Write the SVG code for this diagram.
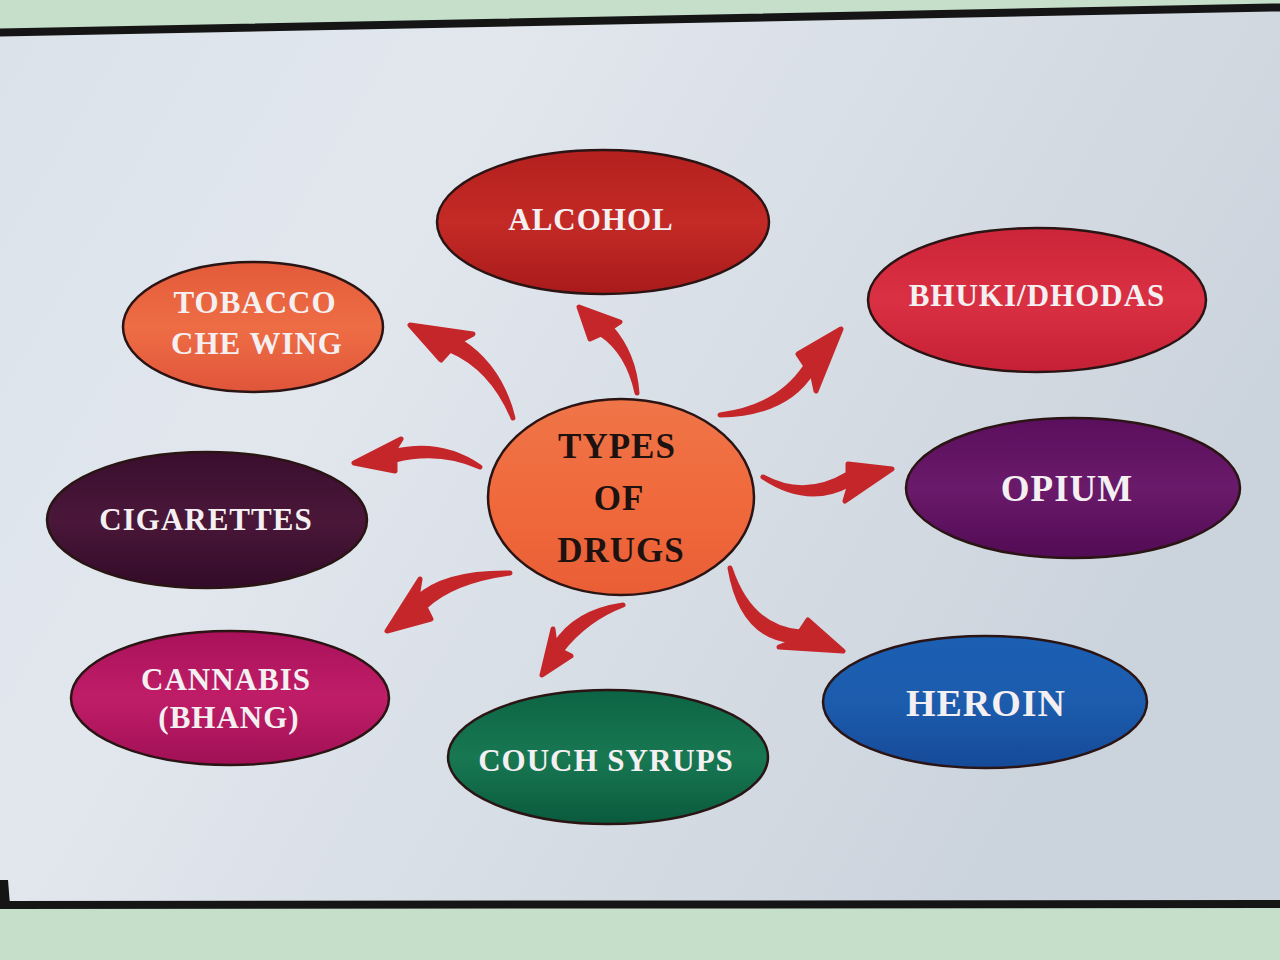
<svg xmlns="http://www.w3.org/2000/svg" width="1280" height="960" viewBox="0 0 1280 960">
<defs>
<style>
.lbl{font-family:"Liberation Serif","Times New Roman",serif;font-weight:bold;fill:#f4f0f2;text-anchor:middle;letter-spacing:1px}
.ctr{font-family:"Liberation Serif","Times New Roman",serif;font-weight:bold;fill:#1e1210;text-anchor:middle;letter-spacing:1px}
.node{stroke:#2a1414;stroke-width:2.5}
.arr{fill:#c4262a;stroke:#c4262a;stroke-width:5;stroke-linejoin:round}
</style>
<linearGradient id="board" x1="0" y1="0" x2="1" y2="0.4">
<stop offset="0" stop-color="#dae2ea"/>
<stop offset="0.35" stop-color="#e2e7ee"/>
<stop offset="1" stop-color="#cbd3dc"/>
</linearGradient>
<linearGradient id="gAlc" x1="0" y1="0" x2="0" y2="1"><stop offset="0" stop-color="#b3201e"/><stop offset="0.5" stop-color="#c42a26"/><stop offset="1" stop-color="#a81b1b"/></linearGradient>
<linearGradient id="gTob" x1="0" y1="0" x2="0" y2="1"><stop offset="0" stop-color="#e35a39"/><stop offset="0.5" stop-color="#ee6d45"/><stop offset="1" stop-color="#e0553a"/></linearGradient>
<linearGradient id="gBhu" x1="0" y1="0" x2="0" y2="1"><stop offset="0" stop-color="#cc2438"/><stop offset="0.5" stop-color="#da3043"/><stop offset="1" stop-color="#c52035"/></linearGradient>
<linearGradient id="gCig" x1="0" y1="0" x2="0" y2="1"><stop offset="0" stop-color="#3a0e2e"/><stop offset="0.5" stop-color="#4a1739"/><stop offset="1" stop-color="#330b29"/></linearGradient>
<linearGradient id="gCtr" x1="0" y1="0" x2="0" y2="1"><stop offset="0" stop-color="#ef7548"/><stop offset="0.5" stop-color="#f06a3d"/><stop offset="1" stop-color="#ea5e36"/></linearGradient>
<linearGradient id="gOpi" x1="0" y1="0" x2="0" y2="1"><stop offset="0" stop-color="#5a0f5d"/><stop offset="0.5" stop-color="#6a1a6a"/><stop offset="1" stop-color="#520b55"/></linearGradient>
<linearGradient id="gCan" x1="0" y1="0" x2="0" y2="1"><stop offset="0" stop-color="#a8125a"/><stop offset="0.5" stop-color="#c01d68"/><stop offset="1" stop-color="#a01055"/></linearGradient>
<linearGradient id="gCou" x1="0" y1="0" x2="0" y2="1"><stop offset="0" stop-color="#0c6444"/><stop offset="0.5" stop-color="#187852"/><stop offset="1" stop-color="#0a5a3d"/></linearGradient>
<linearGradient id="gHer" x1="0" y1="0" x2="0" y2="1"><stop offset="0" stop-color="#1b5fb3"/><stop offset="0.5" stop-color="#1d5cad"/><stop offset="1" stop-color="#154a98"/></linearGradient>
</defs>
<rect x="0" y="0" width="1280" height="960" fill="#c6dfca"/>
<polygon points="-20,33 1300,7 1300,904 -20,905" fill="url(#board)" stroke="#151515" stroke-width="8"/>
<polygon points="0,880 8,880 10,905 0,908" fill="#151515"/>

<g id="connectors">
<path class="arr" d="M637,393 Q628,352 601,334 L590,339 L579,307 L620,322 L611,328 Q634,354 637,393 Z"/>
<path class="arr" d="M513,418 Q492,368 450,350 L441,360 L410,325 L473,334 L460,341 Q500,366 513,418 Z"/>
<path class="arr" d="M480,467 Q440,440 393,452 L401,439 L354,463 L395,471 L395,460 Q440,449 480,467 Z"/>
<path class="arr" d="M720,415 Q778,408 806,366 L798,354 L841,329 L816,391 L812,372 Q786,414 720,415 Z"/>
<path class="arr" d="M763,477 Q805,500 848,474 L848,464 L892,469 L845,501 L850,484 Q808,507 763,477 Z"/>
<path class="arr" d="M730,568 Q750,628 800,632 L808,620 L843,651 L779,647 L795,641 Q742,638 730,568 Z"/>
<path class="arr" d="M510,573 Q445,572 417,598 L420,579 L387,631 L431,619 L425,607 Q452,581 510,573 Z"/>
<path class="arr" d="M623,605 Q575,612 555,645 L553,629 L542,675 L571,656 L561,651 Q586,619 623,605 Z"/>
</g>

<g id="n-alcohol">
<ellipse class="node" cx="603" cy="222" rx="166" ry="72" fill="url(#gAlc)"/>
<text class="lbl" x="591" y="230" font-size="31">ALCOHOL</text>
</g>
<g id="n-tobacco">
<ellipse class="node" cx="253" cy="327" rx="130" ry="65" fill="url(#gTob)"/>
<text class="lbl" x="255" y="313" font-size="31">TOBACCO</text>
<text class="lbl" x="257" y="354" font-size="31">CHE WING</text>
</g>
<g id="n-bhuki">
<ellipse class="node" cx="1037" cy="300" rx="169" ry="72" fill="url(#gBhu)"/>
<text class="lbl" x="1037" y="306" font-size="31">BHUKI/DHODAS</text>
</g>
<g id="n-cigarettes">
<ellipse class="node" cx="207" cy="520" rx="160" ry="68" fill="url(#gCig)"/>
<text class="lbl" x="206" y="530" font-size="31">CIGARETTES</text>
</g>
<g id="n-center">
<ellipse class="node" cx="621" cy="497" rx="133" ry="98" fill="url(#gCtr)"/>
<text class="ctr" x="617" y="458" font-size="35">TYPES</text>
<text class="ctr" x="619" y="510" font-size="35">OF</text>
<text class="ctr" x="621" y="562" font-size="35">DRUGS</text>
</g>
<g id="n-opium">
<ellipse class="node" cx="1073" cy="488" rx="167" ry="70" fill="url(#gOpi)"/>
<text class="lbl" x="1067" y="501" font-size="37">OPIUM</text>
</g>
<g id="n-cannabis">
<ellipse class="node" cx="230" cy="698" rx="159" ry="67" fill="url(#gCan)"/>
<text class="lbl" x="226" y="690" font-size="31">CANNABIS</text>
<text class="lbl" x="229" y="728" font-size="31">(BHANG)</text>
</g>
<g id="n-couch">
<ellipse class="node" cx="608" cy="757" rx="160" ry="67" fill="url(#gCou)"/>
<text class="lbl" x="606" y="771" font-size="31">COUCH SYRUPS</text>
</g>
<g id="n-heroin">
<ellipse class="node" cx="985" cy="702" rx="162" ry="66" fill="url(#gHer)"/>
<text class="lbl" x="986" y="716" font-size="38">HEROIN</text>
</g>
</svg>
